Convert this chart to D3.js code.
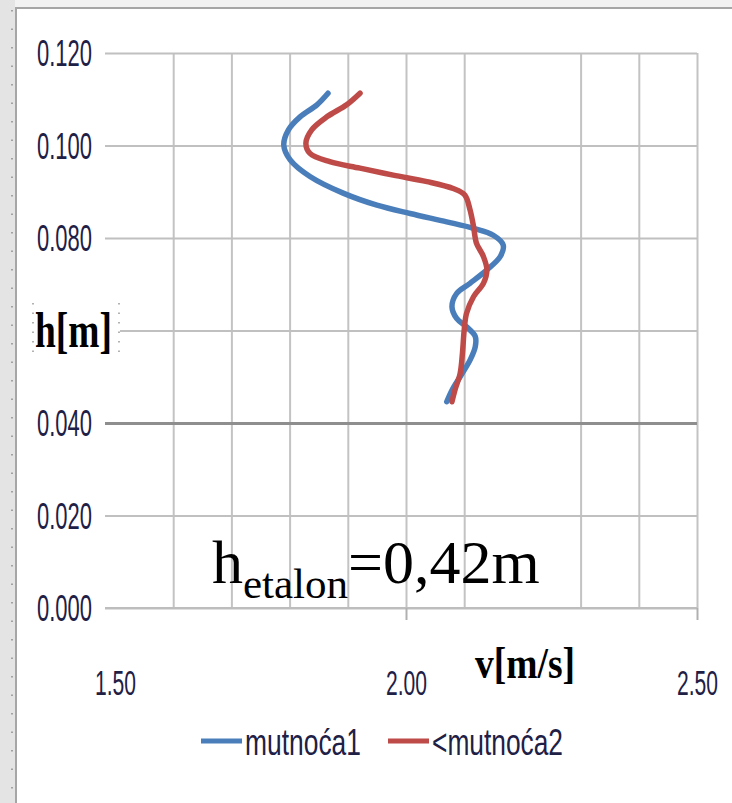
<!DOCTYPE html>
<html>
<head>
<meta charset="utf-8">
<script src="https://cdn.jsdelivr.net/npm/d3@7"></script>
<style>
  body { margin: 0; background: #fff; }
  svg { display: block; }
</style>
</head>
<body>
<svg id="chart" width="732" height="803"></svg>
<script>
// velocity profile, h[m] vs v[m/s]
var seriesNames = ["mutnoća1", "<mutnoća2"];
var seriesColors = ["#4a7ebb", "#be4b48"];

// mutnoća1 (blue), read top to bottom
var v1 = [1.866, 1.847, 1.818, 1.798, 1.790, 1.801, 1.835, 1.892, 1.950, 2.007, 2.070, 2.116, 2.150, 2.167, 2.162, 2.139, 2.110, 2.087, 2.079, 2.087, 2.104, 2.119, 2.119, 2.110, 2.093, 2.079, 2.070];
var h1 = [0.1113, 0.1088, 0.1062, 0.1034, 0.1001, 0.0969, 0.0933, 0.0897, 0.0871, 0.0853, 0.0835, 0.0821, 0.0806, 0.0785, 0.0760, 0.0731, 0.0702, 0.0680, 0.0651, 0.0626, 0.0608, 0.0587, 0.0565, 0.0536, 0.0500, 0.0471, 0.0446];

// mutnoća2 (red)
var v2 = [1.921, 1.898, 1.864, 1.838, 1.828, 1.835, 1.869, 1.921, 1.978, 2.036, 2.081, 2.101, 2.110, 2.116, 2.121, 2.133, 2.139, 2.133, 2.116, 2.104, 2.100, 2.097, 2.093, 2.084, 2.079];
var h2 = [0.1113, 0.1088, 0.1062, 0.1034, 0.1005, 0.0983, 0.0965, 0.0951, 0.0936, 0.0922, 0.0907, 0.0893, 0.0861, 0.0825, 0.0789, 0.0760, 0.0731, 0.0702, 0.0673, 0.0637, 0.0601, 0.0551, 0.0507, 0.0471, 0.0446];

var hTicks = [0, 0.02, 0.04, 0.06, 0.08, 0.10, 0.12];
// 0.060 is hidden under the h[m] title in the original
var hTickLabels = ["0.000", "0.020", "0.040", "", "0.080", "0.100", "0.120"];
var vTicks = [1.5, 2.0, 2.5];
var vTickLabels = ["1.50", "2.00", "2.50"];
var vGrid = [1.6, 1.7, 1.8, 1.9, 2.0, 2.1, 2.3, 2.4, 2.5];

var svg = d3.select('#chart');

// window chrome round the picture
svg.append('rect').attr('x', 0).attr('y', 0).attr('width', 732).attr('height', 7).attr('fill', '#f2f2f2');
svg.append('rect').attr('x', 0).attr('y', 0).attr('width', 15).attr('height', 803).attr('fill', '#e4e4e4');
svg.append('line').attr('x1', 12).attr('x2', 12).attr('y1', 10).attr('y2', 803)
    .attr('stroke', '#8a8a8a').attr('stroke-width', 1.5).attr('stroke-dasharray', '1.5,17');
svg.append('path').attr('d', 'M16,803V8H732')
    .attr('fill', 'none').attr('stroke', '#a6a6a6').attr('stroke-width', 2);

var plotLeft = 105, plotRight = 697, plotTop = 53, plotBottom = 608;

var x = d3.scaleLinear().domain([1.5, 2.5]).range([115, plotRight]);
var y = d3.scaleLinear().domain([0, 0.12]).range([plotBottom, plotTop]);

// vertical grid
var xGrid = svg.append('g')
    .attr('transform', 'translate(0,' + plotBottom + ')')
    .call(d3.axisBottom(x).tickValues(vGrid).tickSize(-(plotBottom - plotTop)).tickFormat(''));
xGrid.select('.domain').remove();
xGrid.selectAll('.tick line').attr('stroke', '#c3c3c3').attr('stroke-width', 2);

// horizontal grid + h labels
var yAxis = svg.append('g')
    .attr('transform', 'translate(' + plotLeft + ',0)')
    .call(d3.axisLeft(y).tickValues(hTicks).tickSize(-(plotRight - plotLeft)).tickPadding(13)
        .tickFormat(function(d, i) { return hTickLabels[i]; }));
yAxis.select('.domain').remove();
yAxis.selectAll('.tick line')
    .attr('stroke', function(d) { return d == 0.04 ? '#8e8e8e' : '#c0c0c0'; })
    .attr('stroke-width', function(d) { return d == 0.04 ? 3 : 2; });
yAxis.selectAll('.tick text')
    .filter(function(d, i) { return hTickLabels[i] === ''; }).remove();
yAxis.selectAll('.tick text')
    .attr('font-family', '"Liberation Sans Narrow", "Liberation Sans", sans-serif')
    .attr('font-size', 36)
    .attr('fill', '#1e2046')
    .attr('textLength', 55)
    .attr('lengthAdjust', 'spacingAndGlyphs')
    .attr('dy', '0.36em');

// bottom axis with the v labels
var xAxis = svg.append('g')
    .attr('transform', 'translate(0,' + plotBottom + ')')
    .call(d3.axisBottom(x).tickValues(vTicks).tickSize(12)
        .tickFormat(function(d, i) { return vTickLabels[i]; }));
xAxis.select('.domain').attr('d', 'M' + plotLeft + ',0H' + plotRight)
    .attr('stroke', '#bdbdbd').attr('stroke-width', 2);
xAxis.selectAll('.tick line').attr('stroke', '#b0b0b0').attr('stroke-width', 2)
    .attr('opacity', function(d) { return d == 1.5 ? 0 : 1; });
xAxis.selectAll('.tick text')
    .attr('font-family', '"Liberation Sans Narrow", "Liberation Sans", sans-serif')
    .attr('font-size', 35)
    .attr('fill', '#1e2046')
    .attr('y', 87)
    .attr('dy', 0)
    .attr('transform', function() {
        // squeeze to the narrow look of the original labels
        var w = this.getComputedTextLength();
        return 'scale(' + (41 / w) + ',1)';
    });

// the two profiles
var line = d3.line()
    .x(function(d) { return x(d.v); })
    .y(function(d) { return y(d.h); })
    .curve(d3.curveCatmullRom.alpha(0.5));

var series = [
    v1.map(function(v, i) { return {v: v, h: h1[i]}; }),
    v2.map(function(v, i) { return {v: v, h: h2[i]}; })
];

svg.selectAll('path.profile').data(series)
    .enter().append('path')
        .attr('class', 'profile')
        .attr('d', line)
        .attr('fill', 'none')
        .attr('stroke', function(d, i) { return seriesColors[i]; })
        .attr('stroke-width', 5.5)
        .attr('stroke-linejoin', 'round')
        .attr('stroke-linecap', 'round');

// h[m] title sits in a white box over the 0.060 grid line start
svg.append('rect').attr('x', 33).attr('y', 301).attr('width', 87).attr('height', 60).attr('fill', '#fff');
[33, 119].forEach(function(px) {
    svg.append('line').attr('x1', px).attr('x2', px).attr('y1', 303).attr('y2', 360)
        .attr('stroke', '#999').attr('stroke-width', 1.5).attr('stroke-dasharray', '1.5,8');
});
svg.append('text')
    .attr('x', 35).attr('y', 347)
    .attr('font-family', '"Liberation Serif", "Times New Roman", serif')
    .attr('font-weight', 'bold')
    .attr('font-size', 50)
    .attr('textLength', 77)
    .attr('lengthAdjust', 'spacingAndGlyphs')
    .text('h[m]');

svg.append('text')
    .attr('x', 475).attr('y', 678)
    .attr('font-family', '"Liberation Serif", "Times New Roman", serif')
    .attr('font-weight', 'bold')
    .attr('font-size', 44)
    .attr('textLength', 100)
    .attr('lengthAdjust', 'spacingAndGlyphs')
    .text('v[m/s]');

// h etalon note
var note = svg.append('text')
    .attr('x', 212).attr('y', 583)
    .attr('font-family', '"Liberation Serif", "Times New Roman", serif')
    .attr('font-size', 62)
    .attr('fill', '#000');
note.append('tspan').text('h');
note.append('tspan').attr('font-size', 43).attr('dy', 15).text('etalon');
note.append('tspan').attr('dy', -15).text('=0,42m');

// legend
var legendX = [201, 388];
var legendTextLen = [116, 131];
var legend = svg.selectAll('g.legend').data(seriesNames)
    .enter().append('g')
        .attr('class', 'legend')
        .attr('transform', function(d, i) { return 'translate(' + legendX[i] + ',741)'; });
legend.append('line')
    .attr('x1', 0).attr('x2', 41)
    .attr('stroke', function(d, i) { return seriesColors[i]; })
    .attr('stroke-width', 5);
legend.append('text')
    .attr('x', 44).attr('y', 14)
    .attr('font-family', '"Liberation Sans Narrow", "Liberation Sans", sans-serif')
    .attr('font-size', 36)
    .attr('fill', '#1e2046')
    .attr('textLength', function(d, i) { return legendTextLen[i]; })
    .attr('lengthAdjust', 'spacingAndGlyphs')
    .text(function(d) { return d; });
</script>
</body>
</html>
